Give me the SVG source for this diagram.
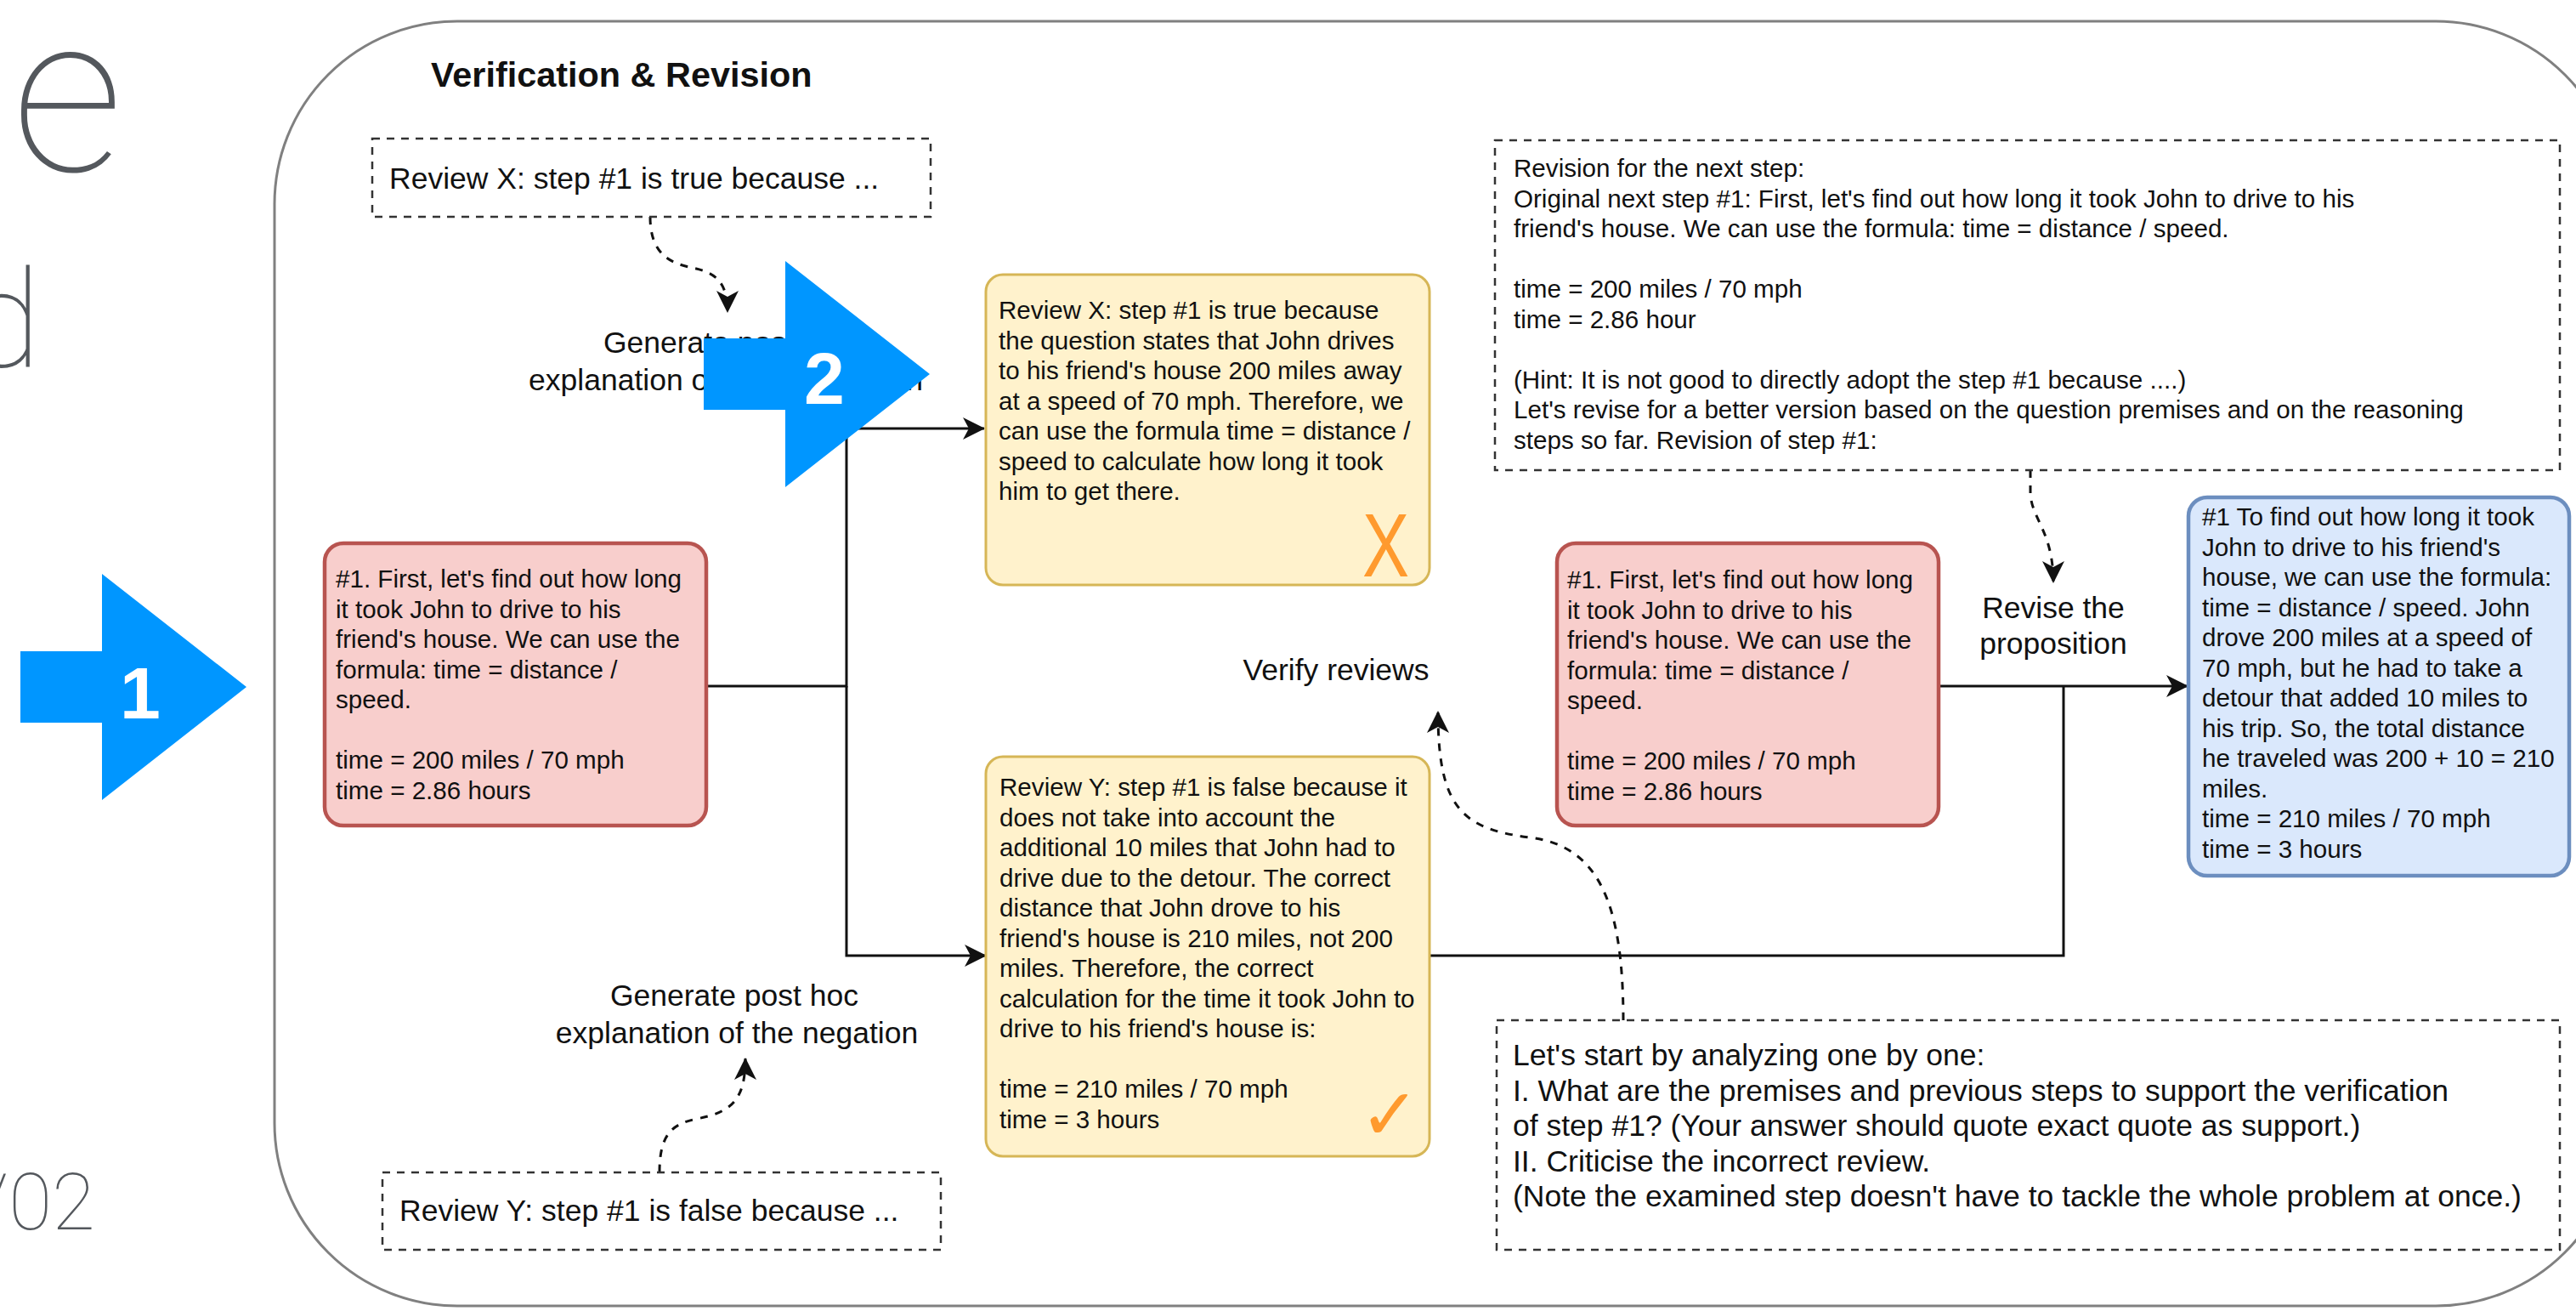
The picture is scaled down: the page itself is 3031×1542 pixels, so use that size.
<svg xmlns="http://www.w3.org/2000/svg" width="3031" height="1542" viewBox="0 0 3031 1542">
  <style>
    .t { font-family: "Liberation Sans", Arial, Helvetica, sans-serif; fill: #111; }
    .s { font-size: 29.6px; }
    .m { font-size: 35.5px; }
    .c { text-anchor: middle; }
    .title { font-size: 41.4px; font-weight: bold; }
    .slide { font-family: Roboto, Lato, "Open Sans", sans-serif; font-weight: 100; fill: #54585d; }
    .frame { fill: #ffffff; stroke: #808080; stroke-width: 3; }
    .note { fill: #ffffff; stroke: #333; stroke-width: 2.5; stroke-dasharray: 9 8; }
    .red { fill: #f8cecc; stroke: #b85450; stroke-width: 4.5; }
    .yellow { fill: #fff2cc; stroke: #d6b656; stroke-width: 3; }
    .blue { fill: #dae8fc; stroke: #6c8ebf; stroke-width: 4.5; }
    .edge { fill: none; stroke: #111; stroke-width: 3; }
    .dash { fill: none; stroke: #111; stroke-width: 3; stroke-dasharray: 9 9; }
    .mark { font-family: "Liberation Sans", Arial, sans-serif; fill: #ff9a2e; }
    .big { fill: #0096ff; }
    .num { font-family: "Liberation Sans", Arial, sans-serif; font-weight: bold; font-size: 86px; fill: #ffffff; text-anchor: middle; }
  </style>
  <defs>
    <marker id="arrow" markerUnits="userSpaceOnUse" markerWidth="26" markerHeight="26" viewBox="0 0 26 26" refX="25" refY="13" orient="auto">
      <path d="M0,0 L26,13 L0,26 L7,13 Z" fill="#111"/>
    </marker>
    <path id="bigArrow" d="M0,-42 H96 V-133 L266,0 L96,133 V42 H0 Z"/>
  </defs>

  <rect width="3031" height="1542" fill="#ffffff"/>

  <!-- slide title fragments at the left border -->
  <g id="slide-text">
    <text class="slide" x="145" y="201" font-size="260" text-anchor="end">e</text>
    <text class="slide" x="48" y="431" font-size="160" text-anchor="end">d</text>
    <text class="slide" x="112" y="1446" font-size="93" text-anchor="end">/02</text>
  </g>

  <!-- outer container -->
  <g id="container">
    <rect class="frame" x="323" y="25" width="2758" height="1511" rx="215" ry="215"/>
    <text class="t title" x="507" y="102">Verification &amp; Revision</text>
  </g>

  <!-- connectors -->
  <g id="connectors">
    <path class="edge" d="M831,807 H996 V504 H1158" marker-end="url(#arrow)"/>
    <path class="edge" d="M996,807 V1124 H1160" marker-end="url(#arrow)"/>
    <path class="edge" d="M2281,807 H2574" marker-end="url(#arrow)"/>
    <path class="edge" d="M1682,1124 H2428 V807"/>
    <path class="dash" d="M765,255 C765,300 790,310 815,315 C845,321 856,335 856,367" marker-end="url(#arrow)"/>
    <path class="dash" d="M776,1379 C776,1335 790,1322 820,1316 C860,1308 877,1295 877,1245" marker-end="url(#arrow)"/>
    <path class="dash" d="M1910,1200 C1910,1060 1880,995 1800,985 C1720,975 1692,950 1692,837" marker-end="url(#arrow)"/>
    <path class="dash" d="M2389,553 L2389,580 C2390,610 2416,625 2416,685" marker-end="url(#arrow)"/>
  </g>

  <!-- edge labels -->
  <g id="label-gen-x">
    <text class="t m c" x="856" y="415">Generate post hoc</text>
    <text class="t m c" x="854" y="459">explanation of the proposition</text>
  </g>
  <g id="label-gen-y">
    <text class="t m c" x="864" y="1183">Generate post hoc</text>
    <text class="t m c" x="867" y="1227">explanation of the negation</text>
  </g>
  <g id="label-verify">
    <text class="t m c" x="1572" y="800">Verify reviews</text>
  </g>
  <g id="label-revise">
    <text class="t m c" x="2416" y="727">Revise the</text>
    <text class="t m c" x="2416" y="769">proposition</text>
  </g>

  <!-- prompt notes -->
  <g id="note-review-x">
    <rect class="note" x="438" y="163" width="657" height="92"/>
    <text class="t m" x="458" y="222">Review X: step #1 is true because ...</text>
  </g>
  <g id="note-review-y">
    <rect class="note" x="450" y="1379" width="657" height="91"/>
    <text class="t m" x="470" y="1436">Review Y: step #1 is false because ...</text>
  </g>
  <g id="note-revision">
    <rect class="note" x="1759" y="165" width="1253" height="388"/>
    <text class="t s">
      <tspan x="1781" y="208">Revision for the next step:</tspan>
      <tspan x="1781" y="243.5">Original next step #1: First, let's find out how long it took John to drive to his</tspan>
      <tspan x="1781" y="279">friend's house. We can use the formula: time = distance / speed.</tspan>
      <tspan x="1781" y="350">time = 200 miles / 70 mph</tspan>
      <tspan x="1781" y="385.5">time = 2.86 hour</tspan>
      <tspan x="1781" y="456.5">(Hint: It is not good to directly adopt the step #1 because ....)</tspan>
      <tspan x="1781" y="492">Let's revise for a better version based on the question premises and on the reasoning</tspan>
      <tspan x="1781" y="527.5">steps so far. Revision of step #1:</tspan>
    </text>
  </g>
  <g id="note-verify">
    <rect class="note" x="1761" y="1200" width="1251" height="270"/>
    <text class="t m">
      <tspan x="1780" y="1253">Let's start by analyzing one by one:</tspan>
      <tspan x="1780" y="1294.5">I. What are the premises and previous steps to support the verification</tspan>
      <tspan x="1780" y="1336">of step #1? (Your answer should quote exact quote as support.)</tspan>
      <tspan x="1780" y="1377.5">II. Criticise the incorrect review.</tspan>
      <tspan x="1780" y="1419">(Note the examined step doesn't have to tackle the whole problem at once.)</tspan>
    </text>
  </g>

  <!-- reasoning steps -->
  <g id="step-original">
    <rect class="red" x="382" y="639" width="449" height="332" rx="22" ry="22"/>
    <text class="t s">
      <tspan x="395" y="691">#1. First, let's find out how long</tspan>
      <tspan x="395" y="726.5">it took John to drive to his</tspan>
      <tspan x="395" y="762">friend's house. We can use the</tspan>
      <tspan x="395" y="797.5">formula: time = distance /</tspan>
      <tspan x="395" y="833">speed.</tspan>
      <tspan x="395" y="904">time = 200 miles / 70 mph</tspan>
      <tspan x="395" y="939.5">time = 2.86 hours</tspan>
    </text>
  </g>
  <g id="review-x">
    <rect class="yellow" x="1160" y="323" width="522" height="365" rx="20" ry="20"/>
    <text class="t s">
      <tspan x="1175" y="375">Review X: step #1 is true because</tspan>
      <tspan x="1175" y="410.5">the question states that John drives</tspan>
      <tspan x="1175" y="446">to his friend's house 200 miles away</tspan>
      <tspan x="1175" y="481.5">at a speed of 70 mph. Therefore, we</tspan>
      <tspan x="1175" y="517">can use the formula time = distance /</tspan>
      <tspan x="1175" y="552.5">speed to calculate how long it took</tspan>
      <tspan x="1175" y="588">him to get there.</tspan>
    </text>
    <text class="mark" x="0" y="0" font-size="106" transform="translate(1603,678) scale(0.78,1)">X</text>
  </g>
  <g id="review-y">
    <rect class="yellow" x="1160" y="890" width="522" height="470" rx="20" ry="20"/>
    <text class="t s">
      <tspan x="1176" y="936">Review Y: step #1 is false because it</tspan>
      <tspan x="1176" y="971.5">does not take into account the</tspan>
      <tspan x="1176" y="1007">additional 10 miles that John had to</tspan>
      <tspan x="1176" y="1042.5">drive due to the detour. The correct</tspan>
      <tspan x="1176" y="1078">distance that John drove to his</tspan>
      <tspan x="1176" y="1113.5">friend's house is 210 miles, not 200</tspan>
      <tspan x="1176" y="1149">miles. Therefore, the correct</tspan>
      <tspan x="1176" y="1184.5">calculation for the time it took John to</tspan>
      <tspan x="1176" y="1220">drive to his friend's house is:</tspan>
      <tspan x="1176" y="1291">time = 210 miles / 70 mph</tspan>
      <tspan x="1176" y="1326.5">time = 3 hours</tspan>
    </text>
    <text x="1600" y="1340" font-family="DejaVu Sans, sans-serif" font-size="84" fill="#ff9a2e">✓</text>
  </g>
  <g id="step-current">
    <rect class="red" x="1832" y="639" width="449" height="332" rx="22" ry="22"/>
    <text class="t s">
      <tspan x="1844" y="692">#1. First, let's find out how long</tspan>
      <tspan x="1844" y="727.5">it took John to drive to his</tspan>
      <tspan x="1844" y="763">friend's house. We can use the</tspan>
      <tspan x="1844" y="798.5">formula: time = distance /</tspan>
      <tspan x="1844" y="834">speed.</tspan>
      <tspan x="1844" y="905">time = 200 miles / 70 mph</tspan>
      <tspan x="1844" y="940.5">time = 2.86 hours</tspan>
    </text>
  </g>
  <g id="step-revised">
    <rect class="blue" x="2575" y="585" width="448" height="445" rx="22" ry="22"/>
    <text class="t s">
      <tspan x="2591" y="618">#1 To find out how long it took</tspan>
      <tspan x="2591" y="653.5">John to drive to his friend's</tspan>
      <tspan x="2591" y="689">house, we can use the formula:</tspan>
      <tspan x="2591" y="724.5">time = distance / speed. John</tspan>
      <tspan x="2591" y="760">drove 200 miles at a speed of</tspan>
      <tspan x="2591" y="795.5">70 mph, but he had to take a</tspan>
      <tspan x="2591" y="831">detour that added 10 miles to</tspan>
      <tspan x="2591" y="866.5">his trip. So, the total distance</tspan>
      <tspan x="2591" y="902">he traveled was 200 + 10 = 210</tspan>
      <tspan x="2591" y="937.5">miles.</tspan>
      <tspan x="2591" y="973">time = 210 miles / 70 mph</tspan>
      <tspan x="2591" y="1008.5">time = 3 hours</tspan>
    </text>
  </g>

  <!-- numbered callout arrows -->
  <g id="callout-1">
    <use href="#bigArrow" class="big" x="24" y="808"/>
    <text class="num" x="165" y="845">1</text>
  </g>
  <g id="callout-2">
    <use href="#bigArrow" class="big" x="828" y="440"/>
    <text class="num" x="970" y="475">2</text>
  </g>
</svg>
